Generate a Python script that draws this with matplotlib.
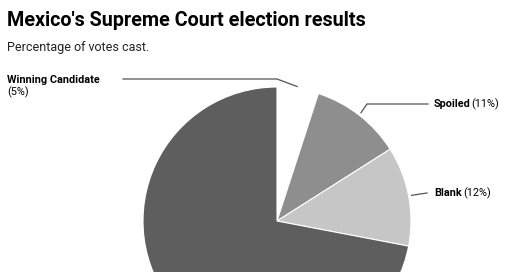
import numpy as np
import matplotlib.pyplot as plt

plt.rcParams['font.family'] = ['Roboto', 'DejaVu Sans']

# Data
categories = ['Winning Candidate', 'Spoiled', 'Blank', 'Other']
shares = [5, 11, 12, 72]
colors = ['white', '#8e8e8e', '#c6c6c6', '#5e5e5e']

W, H = 520, 272
fig = plt.figure(figsize=(W / 100, H / 100), dpi=100)
ax = fig.add_axes([0, 0, 1, 1])

cx, cy, r = 277, H - 221, 134
ax.pie(shares, colors=colors, startangle=90, counterclock=False,
       center=(cx, cy), radius=r, frame=True,
       wedgeprops=dict(edgecolor='white', linewidth=0.8))
ax.set_xlim(0, W)
ax.set_ylim(0, H)
ax.set_aspect('equal')
ax.axis('off')

# slice mid angles (degrees clockwise from 12 o'clock)
edges = np.concatenate([[0], np.cumsum(shares)]) / 100 * 360
mids = (edges[:-1] + edges[1:]) / 2


def edge_point(angle, rad):
    a = np.deg2rad(angle)
    return cx + rad * np.sin(a), cy + rad * np.cos(a)


lc = '#555555'
fs = 7.8
# Winning Candidate (label on the left)
px, py = edge_point(mids[0] - 0.5, r + 2)
ax.plot([123, cx, px], [H - 79, H - 79, py], color=lc, lw=0.9)
ax.text(7, H - 80, categories[0], fontsize=fs, fontweight='bold', va='center')
ax.text(7, H - 92, f'({shares[0]}%)', fontsize=fs, va='center')

# Spoiled
px, py = edge_point(mids[1], r + 3)
ax.plot([px, px + 6, 428], [py, H - 104, H - 104], color=lc, lw=0.9)
ax.text(434, H - 104, categories[1], fontsize=fs, fontweight='bold', va='center')
ax.text(471, H - 104, f'({shares[1]}%)', fontsize=fs, va='center')

# Blank
px, py = edge_point(mids[2], r + 3)
ax.plot([px, 427], [py, H - 193], color=lc, lw=0.9)
ax.text(434, H - 193, categories[2], fontsize=fs, fontweight='bold', va='center')
ax.text(463, H - 193, f'({shares[2]}%)', fontsize=fs, va='center')

fig.text(7 / W, 1 - 26 / H, "Mexico's Supreme Court election results",
         fontsize=14.2, fontweight='bold', va='baseline')
fig.text(7 / W, 1 - 51 / H, 'Percentage of votes cast.', fontsize=9.0,
         va='baseline', color='#222222')

fig.savefig('out.png', dpi=100)
